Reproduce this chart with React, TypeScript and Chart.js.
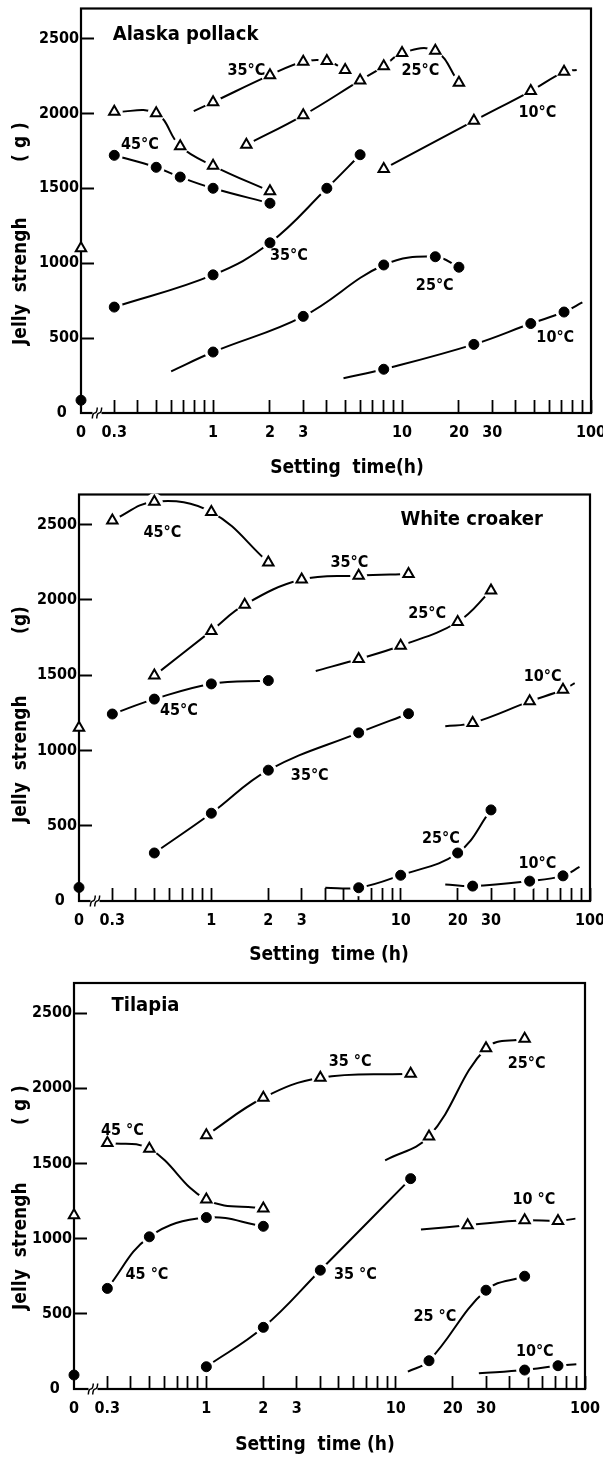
import React, { useEffect, useRef } from 'react';
import { Chart, registerables } from 'chart.js';

Chart.register(...registerables);

const FONT = "'DejaVu Sans Condensed', 'Liberation Sans Narrow', 'DejaVu Sans', sans-serif";

// ---------- axes ----------
const X_ZERO = 0.2; // column used for "0 h", left of the axis break
const X_MAX = 100;
const Y_MAX = 2700;
const xTickValues = [0.2, 0.3, 0.4, 0.5, 0.6, 0.7, 0.8, 0.9, 1, 2, 3, 4, 5, 6, 7, 8, 9, 10, 20, 30, 40, 50, 60, 70, 80, 90, 100];
const xTickLabels = ['0', '0.3', '', '', '', '', '', '', '1', '2', '3', '', '', '', '', '', '', '10', '20', '30', '', '', '', '', '', '', '100'];
const yTickValues = [0, 500, 1000, 1500, 2000, 2500];
const yTickLabels = ['0\u2002 ', '500', '1000', '1500', '2000', '2500'];

// ---------- Alaska pollack ----------
const apZeroTri = 1100;
const apZeroDot = 85;
const apH45 = [0.3, 0.5, 0.67, 1, 2];
const apTri45 = [2010, 2000, 1780, 1650, 1480];
const apDot45 = [1720, 1640, 1575, 1500, 1400];
const apHTri35 = [1, 2, 3, 4, 5];
const apTri35 = [2075, 2255, 2345, 2350, 2290];
const apTri35Lead = [0.79, 2015];
const apHDot35 = [0.3, 1, 2, 4, 6];
const apDot35 = [707, 922, 1136, 1500, 1724];
const apHTri25 = [1.5, 3, 6, 8, 10, 15, 20];
const apTri25 = [1790, 1987, 2220, 2314, 2403, 2418, 2204];
const apHDot25 = [1, 3, 8, 15, 20];
const apDot25 = [407, 645, 988, 1043, 973];
const apDot25Lead = [0.6, 278];
const apH10 = [8, 24, 48, 72];
const apTri10 = [1629, 1950, 2149, 2277];
const apTri10Tail = [84, 2290];
const apDot10 = [292, 458, 597, 674];
const apDot10Lead = [4.9, 232];
const apDot10Tail = [90, 738];

// ---------- White croaker ----------
const wcZeroTri = 1150;
const wcZeroDot = 90;
const wcH45 = [0.3, 0.5, 1, 2];
const wcTri45 = [2528, 2652, 2583, 2249];
const wcDot45 = [1242, 1341, 1442, 1464];
const wcHTri35 = [0.5, 1, 1.5, 3, 6, 11];
const wcTri35 = [1497, 1794, 1968, 2135, 2161, 2172];
const wcHDot35 = [0.5, 1, 2, 6, 11];
const wcDot35 = [319, 583, 869, 1117, 1244];
const wcH25 = [6, 10, 20, 30];
const wcTri25 = [1607, 1695, 1853, 2062];
const wcTri25Lead = [3.56, 1528];
const wcDot25 = [88, 171, 319, 605];
const wcDot25Lead = [4.0, 88];
const wcH10 = [24, 48, 72];
const wcTri10 = [1183, 1326, 1403];
const wcTri10Lead = [17.2, 1161];
const wcTri10Tail = [83, 1447];
const wcDot10 = [99, 132, 167];
const wcDot10Lead = [17.2, 110];
const wcDot10Tail = [88, 226];

// ---------- Tilapia ----------
const tiZeroTri = 1155;
const tiZeroDot = 93;
const tiH45 = [0.3, 0.5, 1, 2];
const tiTri45 = [1636, 1598, 1260, 1200];
const tiDot45 = [669, 1012, 1140, 1082];
const tiH35 = [1, 2, 4, 12];
const tiTri35 = [1687, 1937, 2070, 2096];
const tiDot35 = [148, 410, 790, 1399];
const tiH25 = [15, 30, 48];
const tiTri25 = [1680, 2266, 2329];
const tiTri25Lead = [8.8, 1520];
const tiDot25 = [188, 657, 750];
const tiDot25Lead = [11.6, 115];
const tiHTri10 = [24, 48, 72];
const tiTri10 = [1089, 1122, 1118];
const tiTri10Lead = [13.6, 1060];
const tiTri10Tail = [89, 1133];
const tiHDot10 = [48, 72];
const tiDot10 = [126, 155];
const tiDot10Lead = [27.5, 104];
const tiDot10Tail = [90, 164];

type Series = { h: number[]; g: number[]; tri: boolean; lead?: number[]; tail?: number[] };

const PANELS: any[] = [
  {
    top: 0, height: 486,
    area: { left: 81, right: 591, top: 7, bottom: 413 },
    breakOffset: 16,
    zeroTri: apZeroTri, zeroDot: apZeroDot,
    series: [
      { h: apH45, g: apTri45, tri: true },
      { h: apH45, g: apDot45, tri: false },
      { h: apHTri35, g: apTri35, tri: true, lead: apTri35Lead },
      { h: apHDot35, g: apDot35, tri: false },
      { h: apHTri25, g: apTri25, tri: true },
      { h: apHDot25, g: apDot25, tri: false, lead: apDot25Lead },
      { h: apH10, g: apTri10, tri: true, tail: apTri10Tail },
      { h: apH10, g: apDot10, tri: false, lead: apDot10Lead, tail: apDot10Tail },
    ] as Series[],
    labels: [
      { t: 'Alaska pollack', h: 0.715, g: 2527, s: 20 },
      { t: '35°C', h: 1.5, g: 2281 },
      { t: '25°C', h: 12.5, g: 2281 },
      { t: '10°C', h: 52, g: 2001 },
      { t: '45°C', h: 0.41, g: 1789 },
      { t: '35°C', h: 2.52, g: 1050 },
      { t: '25°C', h: 14.9, g: 851 },
      { t: '10°C', h: 64.7, g: 503 },
    ],
    xTitle: { t: 'Setting  time(h)', x: 347, y: 468 },
    yTitle: { t: 'Jelly  strengh', x: 21, y: 345 },
    yUnit: { t: '( g )', x: 21, y: 142 },
  },
  {
    top: 486, height: 486,
    area: { left: 79, right: 590, top: 6, bottom: 415 },
    breakOffset: 16,
    zeroTri: wcZeroTri, zeroDot: wcZeroDot,
    series: [
      { h: wcH45, g: wcTri45, tri: true },
      { h: wcH45, g: wcDot45, tri: false },
      { h: wcHTri35, g: wcTri35, tri: true },
      { h: wcHDot35, g: wcDot35, tri: false },
      { h: wcH25, g: wcTri25, tri: true, lead: wcTri25Lead },
      { h: wcH25, g: wcDot25, tri: false, lead: wcDot25Lead },
      { h: wcH10, g: wcTri10, tri: true, lead: wcTri10Lead, tail: wcTri10Tail },
      { h: wcH10, g: wcDot10, tri: false, lead: wcDot10Lead, tail: wcDot10Tail },
    ] as Series[],
    labels: [
      { t: 'White croaker', h: 23.7, g: 2533, s: 20 },
      { t: '45°C', h: 0.551, g: 2447 },
      { t: '35°C', h: 5.36, g: 2249 },
      { t: '25°C', h: 13.8, g: 1908 },
      { t: '10°C', h: 56.2, g: 1491 },
      { t: '45°C', h: 0.674, g: 1260 },
      { t: '35°C', h: 3.31, g: 831 },
      { t: '25°C', h: 16.3, g: 414 },
      { t: '10°C', h: 52.7, g: 249 },
    ],
    xTitle: { t: 'Setting  time (h)', x: 329, y: 469 },
    yTitle: { t: 'Jelly  strengh', x: 21, y: 337 },
    yUnit: { t: '(g)', x: 21, y: 134 },
  },
  {
    top: 972, height: 486,
    area: { left: 74, right: 585, top: 11, bottom: 417 },
    breakOffset: 19,
    zeroTri: tiZeroTri, zeroDot: tiZeroDot,
    series: [
      { h: tiH45, g: tiTri45, tri: true },
      { h: tiH45, g: tiDot45, tri: false },
      { h: tiH35, g: tiTri35, tri: true },
      { h: tiH35, g: tiDot35, tri: false },
      { h: tiH25, g: tiTri25, tri: true, lead: tiTri25Lead },
      { h: tiH25, g: tiDot25, tri: false, lead: tiDot25Lead },
      { h: tiHTri10, g: tiTri10, tri: true, lead: tiTri10Lead, tail: tiTri10Tail },
      { h: tiHDot10, g: tiDot10, tri: false, lead: tiDot10Lead, tail: tiDot10Tail },
    ] as Series[],
    labels: [
      { t: 'Tilapia', h: 0.477, g: 2550, s: 20 },
      { t: '35 °C', h: 5.75, g: 2173 },
      { t: '25°C', h: 49.2, g: 2163 },
      { t: '45 °C', h: 0.36, g: 1720 },
      { t: '10 °C', h: 53.7, g: 1255 },
      { t: '45 °C', h: 0.486, g: 757 },
      { t: '35 °C', h: 6.12, g: 757 },
      { t: '25 °C', h: 16.1, g: 480 },
      { t: '10°C', h: 54.3, g: 248 },
    ],
    xTitle: { t: 'Setting  time (h)', x: 315, y: 473 },
    yTitle: { t: 'Jelly  strengh', x: 21, y: 338 },
    yUnit: { t: '( g )', x: 21, y: 133 },
  },
];

const decorPlugin = {
  id: 'decor',
  beforeDatasetsDraw(chart: any, _a: any, opts: any) {
    const { ctx, chartArea: a } = chart;
    ctx.save();
    ctx.strokeStyle = '#000';
    ctx.lineWidth = 2.2;
    ctx.strokeRect(a.left, a.top, a.right - a.left, a.bottom - a.top);
    // axis break between 0 and 0.3
    const bx = a.left + opts.breakOffset;
    const by = a.bottom;
    ctx.fillStyle = '#fff';
    ctx.fillRect(bx - 4.5, by - 2.5, 9, 5);
    ctx.lineWidth = 1.5;
    for (const dx of [-2.2, 2.2]) {
      ctx.beginPath();
      ctx.moveTo(bx + dx - 2.5, by + 5.5);
      ctx.quadraticCurveTo(bx + dx - 2.2, by, bx + dx, by);
      ctx.quadraticCurveTo(bx + dx + 2.2, by, bx + dx + 2.5, by - 5.5);
      ctx.stroke();
    }
    ctx.restore();
  },
  afterDraw(chart: any, _a: any, opts: any) {
    const { ctx } = chart;
    const xs = chart.scales.x;
    const ys = chart.scales.y;
    ctx.save();
    ctx.fillStyle = '#000';
    ctx.textBaseline = 'middle';
    ctx.textAlign = 'center';
    for (const l of opts.labels) {
      ctx.font = `bold ${l.s || 16}px ${FONT}`;
      ctx.fillText(l.t, xs.getPixelForValue(l.h), ys.getPixelForValue(l.g));
    }
    ctx.font = `bold 19px ${FONT}`;
    ctx.fillText(opts.xTitle.t, opts.xTitle.x, opts.xTitle.y);
    // rotated y title
    ctx.save();
    ctx.translate(opts.yTitle.x, opts.yTitle.y);
    ctx.rotate(-Math.PI / 2);
    ctx.textAlign = 'left';
    ctx.fillText(opts.yTitle.t, 0, 0);
    ctx.restore();
    ctx.save();
    ctx.translate(opts.yUnit.x, opts.yUnit.y);
    ctx.rotate(-Math.PI / 2);
    ctx.textAlign = 'center';
    ctx.fillText(opts.yUnit.t, 0, 0);
    ctx.restore();
    ctx.restore();
  },
};

function buildConfig(p: any): any {
  const datasets: any[] = [];
  for (const s of p.series as Series[]) {
    const pts = s.h.map((h, i) => ({ x: h, y: s.g[i] }));
    const linePts = [
      ...(s.lead ? [{ x: s.lead[0], y: s.lead[1] }] : []),
      ...pts,
      ...(s.tail ? [{ x: s.tail[0], y: s.tail[1] }] : []),
    ];
    datasets.push({
      data: linePts, showLine: true, borderColor: '#000', borderWidth: 2,
      pointRadius: 0, tension: 0.4, order: 3, clip: false,
    });
    datasets.push({
      data: pts, showLine: false, pointRadius: 8.5, pointBackgroundColor: '#fff',
      pointBorderColor: '#fff', pointBorderWidth: 0, order: 2, clip: false,
    });
    datasets.push({
      data: pts, showLine: false,
      pointStyle: s.tri ? 'triangle' : 'circle',
      pointRadius: s.tri ? 6 : 5,
      pointBackgroundColor: s.tri ? '#fff' : '#000',
      pointBorderColor: '#000', pointBorderWidth: s.tri ? 2 : 1,
      order: 1, clip: false,
    });
  }
  datasets.push({
    data: [{ x: X_ZERO, y: p.zeroTri }], showLine: false, pointStyle: 'triangle',
    pointRadius: 6, pointBackgroundColor: '#fff', pointBorderColor: '#000',
    pointBorderWidth: 2, order: 0, clip: false,
  });
  datasets.push({
    data: [{ x: X_ZERO, y: p.zeroDot }], showLine: false, pointStyle: 'circle',
    pointRadius: 5, pointBackgroundColor: '#000', pointBorderColor: '#000',
    pointBorderWidth: 1, order: 0, clip: false,
  });

  const a = p.area;
  const tickFont = { family: FONT, size: 16, weight: 'bold' };
  return {
    type: 'scatter',
    data: { datasets },
    plugins: [decorPlugin],
    options: {
      responsive: false,
      maintainAspectRatio: false,
      animation: false,
      events: [],
      layout: { padding: { left: 0, top: a.top, right: 603 - a.right, bottom: 0 } },
      plugins: {
        legend: { display: false },
        tooltip: { enabled: false },
        decor: {
          breakOffset: p.breakOffset, labels: p.labels,
          xTitle: p.xTitle, yTitle: p.yTitle, yUnit: p.yUnit,
        },
      },
      scales: {
        x: {
          type: 'logarithmic',
          min: X_ZERO,
          max: X_MAX,
          afterBuildTicks: (sc: any) => { sc.ticks = xTickValues.map((v) => ({ value: v })); },
          afterFit: (sc: any) => { sc.height = p.height - a.bottom; sc.paddingLeft = 0; sc.paddingRight = 0; },
          ticks: {
            autoSkip: false, maxRotation: 0, minRotation: 0, padding: 23, color: '#000',
            font: tickFont,
            callback: (_v: any, i: number) => xTickLabels[i],
          },
          grid: {
            display: true, drawOnChartArea: false, drawTicks: true, tickLength: -13,
            tickWidth: 1.8,
            tickColor: (c: any) => (c.tick && c.tick.value === X_ZERO ? 'rgba(0,0,0,0)' : '#000'),
          },
          border: { display: false },
        },
        y: {
          type: 'linear',
          min: 0,
          max: Y_MAX,
          afterBuildTicks: (sc: any) => { sc.ticks = yTickValues.map((v) => ({ value: v })); },
          afterFit: (sc: any) => { sc.width = a.left; sc.paddingTop = 0; sc.paddingBottom = 0; },
          ticks: {
            padding: 15, color: '#000', font: tickFont,
            callback: (_v: any, i: number) => yTickLabels[i],
          },
          grid: {
            display: true, drawOnChartArea: false, drawTicks: true, tickLength: -13,
            tickWidth: 2,
            tickColor: (c: any) => (c.tick && c.tick.value === 0 ? 'rgba(0,0,0,0)' : '#000'),
          },
          border: { display: false },
        },
      },
    },
  };
}

function Panel({ p }: { p: any }) {
  const ref = useRef<HTMLCanvasElement | null>(null);
  useEffect(() => {
    if (!ref.current) return;
    const chart = new Chart(ref.current, buildConfig(p));
    return () => chart.destroy();
  }, [p]);
  return (
    <canvas
      ref={ref}
      width={603}
      height={p.height}
      style={{ position: 'absolute', left: 0, top: p.top, width: 603, height: p.height }}
    />
  );
}

export default function App() {
  return (
    <div style={{ position: 'absolute', left: 0, top: 0, width: 603, height: 1458, background: '#fff', overflow: 'hidden' }}>
      {PANELS.map((p, i) => (
        <Panel key={i} p={p} />
      ))}
    </div>
  );
}
